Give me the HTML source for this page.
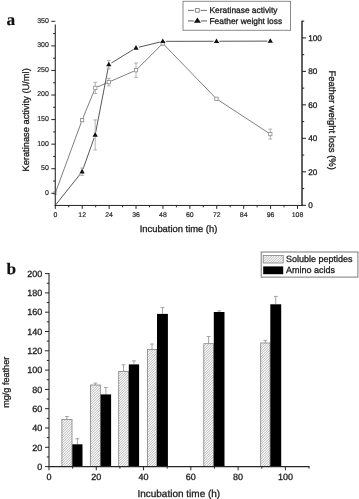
<!DOCTYPE html>
<html lang="en">
<head>
<meta charset="utf-8">
<title>Figure</title>
<style>
html,body{margin:0;padding:0;background:#fff;}
body{width:359px;height:499px;overflow:hidden;}
svg{display:block;}
text{text-rendering:geometricPrecision;}
</style>
</head>
<body>
<svg width="359" height="499" viewBox="0 0 359 499">
<rect width="359" height="499" fill="#fff"/>
<text x="0.00" y="0.00" font-size="16.3" text-anchor="start" fill="#111" stroke="#111" stroke-width="0.15" font-family='"Liberation Serif", "Times New Roman", serif' font-weight="bold" transform="translate(6.55,24.7) scale(1.07,1)">a</text>
<text x="0.00" y="0.00" font-size="16.0" text-anchor="start" fill="#111" stroke="#111" stroke-width="0.15" font-family='"Liberation Serif", "Times New Roman", serif' font-weight="bold" transform="translate(6.6,274.1) scale(1.08,1)">b</text>
<polyline points="55.30,193.00 82.10,120.10 95.30,87.90 108.80,82.10 136.00,70.20 162.80,43.40 216.40,98.80 270.30,134.10" fill="none" stroke="#707070" stroke-width="0.9"/>
<polyline points="55.30,205.30 82.10,171.70 95.20,134.90 108.80,64.60 136.00,47.90 162.80,41.35 216.50,41.25 270.30,41.10" fill="none" stroke="#444" stroke-width="0.9"/>
<rect x="53.80" y="191.50" width="3.0" height="3.0" fill="#fff" stroke="#b0b0b0" stroke-width="0.8"/>
<circle cx="82.10" cy="120.10" r="2.5" fill="#fff"/>
<circle cx="95.30" cy="87.90" r="2.5" fill="#fff"/>
<circle cx="108.80" cy="82.10" r="2.5" fill="#fff"/>
<circle cx="136.00" cy="70.20" r="2.5" fill="#fff"/>
<circle cx="162.80" cy="43.40" r="2.5" fill="#fff"/>
<circle cx="216.40" cy="98.80" r="2.5" fill="#fff"/>
<circle cx="270.30" cy="134.10" r="2.5" fill="#fff"/>
<circle cx="82.10" cy="171.70" r="3" fill="#fff"/>
<circle cx="95.20" cy="134.90" r="3" fill="#fff"/>
<circle cx="108.80" cy="64.60" r="3" fill="#fff"/>
<circle cx="136.00" cy="47.90" r="3" fill="#fff"/>
<circle cx="162.80" cy="41.35" r="3" fill="#fff"/>
<circle cx="216.50" cy="41.25" r="3" fill="#fff"/>
<circle cx="270.30" cy="41.10" r="3" fill="#fff"/>
<line x1="82.10" y1="118.60" x2="82.10" y2="121.60" stroke="#a0a0a0" stroke-width="0.8" />
<line x1="80.20" y1="118.60" x2="84.00" y2="118.60" stroke="#a0a0a0" stroke-width="0.8" />
<line x1="80.20" y1="121.60" x2="84.00" y2="121.60" stroke="#a0a0a0" stroke-width="0.8" />
<rect x="80.45" y="118.45" width="3.3" height="3.3" fill="#fff" stroke="#8a8a8a" stroke-width="0.8"/>
<line x1="95.30" y1="82.30" x2="95.30" y2="93.50" stroke="#a0a0a0" stroke-width="0.8" />
<line x1="93.40" y1="82.30" x2="97.20" y2="82.30" stroke="#a0a0a0" stroke-width="0.8" />
<line x1="93.40" y1="93.50" x2="97.20" y2="93.50" stroke="#a0a0a0" stroke-width="0.8" />
<rect x="93.65" y="86.25" width="3.3" height="3.3" fill="#fff" stroke="#8a8a8a" stroke-width="0.8"/>
<line x1="108.80" y1="78.30" x2="108.80" y2="85.90" stroke="#a0a0a0" stroke-width="0.8" />
<line x1="106.90" y1="78.30" x2="110.70" y2="78.30" stroke="#a0a0a0" stroke-width="0.8" />
<line x1="106.90" y1="85.90" x2="110.70" y2="85.90" stroke="#a0a0a0" stroke-width="0.8" />
<rect x="107.15" y="80.45" width="3.3" height="3.3" fill="#fff" stroke="#8a8a8a" stroke-width="0.8"/>
<line x1="136.00" y1="63.00" x2="136.00" y2="77.40" stroke="#a0a0a0" stroke-width="0.8" />
<line x1="134.10" y1="63.00" x2="137.90" y2="63.00" stroke="#a0a0a0" stroke-width="0.8" />
<line x1="134.10" y1="77.40" x2="137.90" y2="77.40" stroke="#a0a0a0" stroke-width="0.8" />
<rect x="134.35" y="68.55" width="3.3" height="3.3" fill="#fff" stroke="#8a8a8a" stroke-width="0.8"/>
<line x1="162.80" y1="41.60" x2="162.80" y2="45.20" stroke="#a0a0a0" stroke-width="0.8" />
<line x1="160.90" y1="41.60" x2="164.70" y2="41.60" stroke="#a0a0a0" stroke-width="0.8" />
<line x1="160.90" y1="45.20" x2="164.70" y2="45.20" stroke="#a0a0a0" stroke-width="0.8" />
<rect x="161.15" y="41.75" width="3.3" height="3.3" fill="#fff" stroke="#8a8a8a" stroke-width="0.8"/>
<line x1="216.40" y1="97.80" x2="216.40" y2="99.80" stroke="#a0a0a0" stroke-width="0.8" />
<line x1="214.50" y1="97.80" x2="218.30" y2="97.80" stroke="#a0a0a0" stroke-width="0.8" />
<line x1="214.50" y1="99.80" x2="218.30" y2="99.80" stroke="#a0a0a0" stroke-width="0.8" />
<rect x="214.75" y="97.15" width="3.3" height="3.3" fill="#fff" stroke="#8a8a8a" stroke-width="0.8"/>
<line x1="270.30" y1="129.10" x2="270.30" y2="139.10" stroke="#a0a0a0" stroke-width="0.8" />
<line x1="268.40" y1="129.10" x2="272.20" y2="129.10" stroke="#a0a0a0" stroke-width="0.8" />
<line x1="268.40" y1="139.10" x2="272.20" y2="139.10" stroke="#a0a0a0" stroke-width="0.8" />
<rect x="268.65" y="132.45" width="3.3" height="3.3" fill="#fff" stroke="#8a8a8a" stroke-width="0.8"/>
<line x1="82.10" y1="168.00" x2="82.10" y2="175.40" stroke="#a0a0a0" stroke-width="0.8" />
<line x1="80.20" y1="168.00" x2="84.00" y2="168.00" stroke="#a0a0a0" stroke-width="0.8" />
<line x1="80.20" y1="175.40" x2="84.00" y2="175.40" stroke="#a0a0a0" stroke-width="0.8" />
<polygon points="82.10,168.85 79.45,173.45 84.75,173.45" fill="#111"/>
<line x1="95.20" y1="119.90" x2="95.20" y2="149.90" stroke="#a0a0a0" stroke-width="0.8" />
<line x1="93.30" y1="119.90" x2="97.10" y2="119.90" stroke="#a0a0a0" stroke-width="0.8" />
<line x1="93.30" y1="149.90" x2="97.10" y2="149.90" stroke="#a0a0a0" stroke-width="0.8" />
<polygon points="95.20,132.05 92.55,136.65 97.85,136.65" fill="#111"/>
<line x1="108.80" y1="60.40" x2="108.80" y2="68.80" stroke="#a0a0a0" stroke-width="0.8" />
<line x1="106.90" y1="60.40" x2="110.70" y2="60.40" stroke="#a0a0a0" stroke-width="0.8" />
<line x1="106.90" y1="68.80" x2="110.70" y2="68.80" stroke="#a0a0a0" stroke-width="0.8" />
<polygon points="108.80,61.75 106.15,66.35 111.45,66.35" fill="#111"/>
<polygon points="136.00,45.05 133.35,49.65 138.65,49.65" fill="#111"/>
<polygon points="162.80,38.50 160.15,43.10 165.45,43.10" fill="#111"/>
<polygon points="216.50,38.40 213.85,43.00 219.15,43.00" fill="#111"/>
<polygon points="270.30,38.25 267.65,42.85 272.95,42.85" fill="#111"/>
<line x1="55.30" y1="24.60" x2="55.30" y2="205.80" stroke="#3a3a3a" stroke-width="1.2" />
<line x1="51.30" y1="193.30" x2="55.30" y2="193.30" stroke="#262626" stroke-width="1" />
<text x="48.90" y="194.65" font-size="7.0" text-anchor="end" fill="#2a2a2a" stroke="#2a2a2a" stroke-width="0.2" font-family='"Liberation Sans", Arial, sans-serif' font-weight="normal" >0</text>
<line x1="51.30" y1="168.73" x2="55.30" y2="168.73" stroke="#262626" stroke-width="1" />
<text x="48.90" y="170.08" font-size="7.0" text-anchor="end" fill="#2a2a2a" stroke="#2a2a2a" stroke-width="0.2" font-family='"Liberation Sans", Arial, sans-serif' font-weight="normal" >50</text>
<line x1="51.30" y1="144.16" x2="55.30" y2="144.16" stroke="#262626" stroke-width="1" />
<text x="48.90" y="145.51" font-size="7.0" text-anchor="end" fill="#2a2a2a" stroke="#2a2a2a" stroke-width="0.2" font-family='"Liberation Sans", Arial, sans-serif' font-weight="normal" >100</text>
<line x1="51.30" y1="119.59" x2="55.30" y2="119.59" stroke="#262626" stroke-width="1" />
<text x="48.90" y="120.94" font-size="7.0" text-anchor="end" fill="#2a2a2a" stroke="#2a2a2a" stroke-width="0.2" font-family='"Liberation Sans", Arial, sans-serif' font-weight="normal" >150</text>
<line x1="51.30" y1="95.02" x2="55.30" y2="95.02" stroke="#262626" stroke-width="1" />
<text x="48.90" y="96.37" font-size="7.0" text-anchor="end" fill="#2a2a2a" stroke="#2a2a2a" stroke-width="0.2" font-family='"Liberation Sans", Arial, sans-serif' font-weight="normal" >200</text>
<line x1="51.30" y1="70.45" x2="55.30" y2="70.45" stroke="#262626" stroke-width="1" />
<text x="48.90" y="71.80" font-size="7.0" text-anchor="end" fill="#2a2a2a" stroke="#2a2a2a" stroke-width="0.2" font-family='"Liberation Sans", Arial, sans-serif' font-weight="normal" >250</text>
<line x1="51.30" y1="45.88" x2="55.30" y2="45.88" stroke="#262626" stroke-width="1" />
<text x="48.90" y="47.23" font-size="7.0" text-anchor="end" fill="#2a2a2a" stroke="#2a2a2a" stroke-width="0.2" font-family='"Liberation Sans", Arial, sans-serif' font-weight="normal" >300</text>
<line x1="51.30" y1="21.31" x2="55.30" y2="21.31" stroke="#262626" stroke-width="1" />
<text x="48.90" y="22.66" font-size="7.0" text-anchor="end" fill="#2a2a2a" stroke="#2a2a2a" stroke-width="0.2" font-family='"Liberation Sans", Arial, sans-serif' font-weight="normal" >350</text>
<line x1="53.10" y1="181.02" x2="55.30" y2="181.02" stroke="#262626" stroke-width="1" />
<line x1="53.10" y1="156.45" x2="55.30" y2="156.45" stroke="#262626" stroke-width="1" />
<line x1="53.10" y1="131.88" x2="55.30" y2="131.88" stroke="#262626" stroke-width="1" />
<line x1="53.10" y1="107.31" x2="55.30" y2="107.31" stroke="#262626" stroke-width="1" />
<line x1="53.10" y1="82.74" x2="55.30" y2="82.74" stroke="#262626" stroke-width="1" />
<line x1="53.10" y1="58.17" x2="55.30" y2="58.17" stroke="#262626" stroke-width="1" />
<line x1="53.10" y1="33.59" x2="55.30" y2="33.59" stroke="#262626" stroke-width="1" />
<line x1="54.70" y1="205.45" x2="302.60" y2="205.45" stroke="#262626" stroke-width="1.0" />
<line x1="55.30" y1="205.30" x2="55.30" y2="208.90" stroke="#262626" stroke-width="1" />
<text x="55.30" y="216.60" font-size="6.9" text-anchor="middle" fill="#2a2a2a" stroke="#2a2a2a" stroke-width="0.2" font-family='"Liberation Sans", Arial, sans-serif' font-weight="normal" >0</text>
<line x1="82.21" y1="205.30" x2="82.21" y2="208.90" stroke="#262626" stroke-width="1" />
<text x="82.21" y="216.60" font-size="6.9" text-anchor="middle" fill="#2a2a2a" stroke="#2a2a2a" stroke-width="0.2" font-family='"Liberation Sans", Arial, sans-serif' font-weight="normal" >12</text>
<line x1="109.12" y1="205.30" x2="109.12" y2="208.90" stroke="#262626" stroke-width="1" />
<text x="109.12" y="216.60" font-size="6.9" text-anchor="middle" fill="#2a2a2a" stroke="#2a2a2a" stroke-width="0.2" font-family='"Liberation Sans", Arial, sans-serif' font-weight="normal" >24</text>
<line x1="136.03" y1="205.30" x2="136.03" y2="208.90" stroke="#262626" stroke-width="1" />
<text x="136.03" y="216.60" font-size="6.9" text-anchor="middle" fill="#2a2a2a" stroke="#2a2a2a" stroke-width="0.2" font-family='"Liberation Sans", Arial, sans-serif' font-weight="normal" >36</text>
<line x1="162.94" y1="205.30" x2="162.94" y2="208.90" stroke="#262626" stroke-width="1" />
<text x="162.94" y="216.60" font-size="6.9" text-anchor="middle" fill="#2a2a2a" stroke="#2a2a2a" stroke-width="0.2" font-family='"Liberation Sans", Arial, sans-serif' font-weight="normal" >48</text>
<line x1="189.86" y1="205.30" x2="189.86" y2="208.90" stroke="#262626" stroke-width="1" />
<text x="189.86" y="216.60" font-size="6.9" text-anchor="middle" fill="#2a2a2a" stroke="#2a2a2a" stroke-width="0.2" font-family='"Liberation Sans", Arial, sans-serif' font-weight="normal" >60</text>
<line x1="216.77" y1="205.30" x2="216.77" y2="208.90" stroke="#262626" stroke-width="1" />
<text x="216.77" y="216.60" font-size="6.9" text-anchor="middle" fill="#2a2a2a" stroke="#2a2a2a" stroke-width="0.2" font-family='"Liberation Sans", Arial, sans-serif' font-weight="normal" >72</text>
<line x1="243.68" y1="205.30" x2="243.68" y2="208.90" stroke="#262626" stroke-width="1" />
<text x="243.68" y="216.60" font-size="6.9" text-anchor="middle" fill="#2a2a2a" stroke="#2a2a2a" stroke-width="0.2" font-family='"Liberation Sans", Arial, sans-serif' font-weight="normal" >84</text>
<line x1="270.59" y1="205.30" x2="270.59" y2="208.90" stroke="#262626" stroke-width="1" />
<text x="270.59" y="216.60" font-size="6.9" text-anchor="middle" fill="#2a2a2a" stroke="#2a2a2a" stroke-width="0.2" font-family='"Liberation Sans", Arial, sans-serif' font-weight="normal" >96</text>
<line x1="297.50" y1="205.30" x2="297.50" y2="208.90" stroke="#262626" stroke-width="1" />
<text x="297.50" y="216.60" font-size="6.9" text-anchor="middle" fill="#2a2a2a" stroke="#2a2a2a" stroke-width="0.2" font-family='"Liberation Sans", Arial, sans-serif' font-weight="normal" >108</text>
<line x1="68.76" y1="205.30" x2="68.76" y2="207.30" stroke="#262626" stroke-width="1" />
<line x1="95.67" y1="205.30" x2="95.67" y2="207.30" stroke="#262626" stroke-width="1" />
<line x1="122.58" y1="205.30" x2="122.58" y2="207.30" stroke="#262626" stroke-width="1" />
<line x1="149.49" y1="205.30" x2="149.49" y2="207.30" stroke="#262626" stroke-width="1" />
<line x1="176.40" y1="205.30" x2="176.40" y2="207.30" stroke="#262626" stroke-width="1" />
<line x1="203.31" y1="205.30" x2="203.31" y2="207.30" stroke="#262626" stroke-width="1" />
<line x1="230.22" y1="205.30" x2="230.22" y2="207.30" stroke="#262626" stroke-width="1" />
<line x1="257.13" y1="205.30" x2="257.13" y2="207.30" stroke="#262626" stroke-width="1" />
<line x1="284.05" y1="205.30" x2="284.05" y2="207.30" stroke="#262626" stroke-width="1" />
<line x1="302.00" y1="20.80" x2="302.00" y2="205.80" stroke="#1e1e1e" stroke-width="1.4" />
<line x1="302.00" y1="205.30" x2="306.00" y2="205.30" stroke="#262626" stroke-width="1.05" />
<text x="308.20" y="208.10" font-size="8.2" text-anchor="start" fill="#1c1c1c" stroke="#1c1c1c" stroke-width="0.3" font-family='"Liberation Sans", Arial, sans-serif' font-weight="normal" >0</text>
<line x1="302.00" y1="171.82" x2="306.00" y2="171.82" stroke="#262626" stroke-width="1.05" />
<text x="308.20" y="174.62" font-size="8.2" text-anchor="start" fill="#1c1c1c" stroke="#1c1c1c" stroke-width="0.3" font-family='"Liberation Sans", Arial, sans-serif' font-weight="normal" >20</text>
<line x1="302.00" y1="138.34" x2="306.00" y2="138.34" stroke="#262626" stroke-width="1.05" />
<text x="308.20" y="141.14" font-size="8.2" text-anchor="start" fill="#1c1c1c" stroke="#1c1c1c" stroke-width="0.3" font-family='"Liberation Sans", Arial, sans-serif' font-weight="normal" >40</text>
<line x1="302.00" y1="104.86" x2="306.00" y2="104.86" stroke="#262626" stroke-width="1.05" />
<text x="308.20" y="107.66" font-size="8.2" text-anchor="start" fill="#1c1c1c" stroke="#1c1c1c" stroke-width="0.3" font-family='"Liberation Sans", Arial, sans-serif' font-weight="normal" >60</text>
<line x1="302.00" y1="71.38" x2="306.00" y2="71.38" stroke="#262626" stroke-width="1.05" />
<text x="308.20" y="74.18" font-size="8.2" text-anchor="start" fill="#1c1c1c" stroke="#1c1c1c" stroke-width="0.3" font-family='"Liberation Sans", Arial, sans-serif' font-weight="normal" >80</text>
<line x1="302.00" y1="37.90" x2="306.00" y2="37.90" stroke="#262626" stroke-width="1.05" />
<text x="308.20" y="40.70" font-size="8.2" text-anchor="start" fill="#1c1c1c" stroke="#1c1c1c" stroke-width="0.3" font-family='"Liberation Sans", Arial, sans-serif' font-weight="normal" >100</text>
<line x1="302.00" y1="188.56" x2="304.20" y2="188.56" stroke="#262626" stroke-width="1.05" />
<line x1="302.00" y1="155.08" x2="304.20" y2="155.08" stroke="#262626" stroke-width="1.05" />
<line x1="302.00" y1="121.60" x2="304.20" y2="121.60" stroke="#262626" stroke-width="1.05" />
<line x1="302.00" y1="88.12" x2="304.20" y2="88.12" stroke="#262626" stroke-width="1.05" />
<line x1="302.00" y1="54.64" x2="304.20" y2="54.64" stroke="#262626" stroke-width="1.05" />
<line x1="302.00" y1="21.16" x2="304.20" y2="21.16" stroke="#262626" stroke-width="1.05" />
<text x="0.00" y="0.00" font-size="9.3" text-anchor="middle" fill="#1c1c1c" stroke="#1c1c1c" stroke-width="0.3" font-family='"Liberation Sans", Arial, sans-serif' font-weight="normal" transform="translate(28.5,119.9) rotate(-90)">Keratinase activity (U/ml)</text>
<text x="0.00" y="0.00" font-size="9.47" text-anchor="middle" fill="#1c1c1c" stroke="#1c1c1c" stroke-width="0.3" font-family='"Liberation Sans", Arial, sans-serif' font-weight="normal" transform="translate(329.4,120.2) rotate(90)">Feather weight loss (%)</text>
<text x="178.50" y="231.60" font-size="9.4" text-anchor="middle" fill="#1c1c1c" stroke="#1c1c1c" stroke-width="0.3" font-family='"Liberation Sans", Arial, sans-serif' font-weight="normal" >Incubation time (h)</text>
<rect x="183" y="1.3" width="107.5" height="29" fill="#fff" stroke="#8a8a8a" stroke-width="1"/>
<line x1="188.00" y1="10.40" x2="207.00" y2="10.40" stroke="#808080" stroke-width="1.1" />
<circle cx="197.4" cy="10.4" r="3.2" fill="#fff"/>
<rect x="195.60" y="8.60" width="3.6" height="3.6" fill="#fff" stroke="#6e6e6e" stroke-width="0.8"/>
<line x1="188.00" y1="20.90" x2="207.00" y2="20.90" stroke="#6a6a6a" stroke-width="1.1" />
<circle cx="197.4" cy="20.6" r="3.7" fill="#fff"/>
<polygon points="197.40,17.40 193.90,22.80 200.90,22.80" fill="#111"/>
<text x="209.50" y="13.30" font-size="8.4" text-anchor="start" fill="#1c1c1c" stroke="#1c1c1c" stroke-width="0.3" font-family='"Liberation Sans", Arial, sans-serif' font-weight="normal" >Keratinase activity</text>
<text x="209.50" y="23.80" font-size="8.4" text-anchor="start" fill="#1c1c1c" stroke="#1c1c1c" stroke-width="0.3" font-family='"Liberation Sans", Arial, sans-serif' font-weight="normal" >Feather weight loss</text>
<line x1="66.90" y1="416.50" x2="66.90" y2="419.50" stroke="#9a9a9a" stroke-width="0.9" />
<line x1="65.00" y1="416.50" x2="68.80" y2="416.50" stroke="#9a9a9a" stroke-width="0.9" />
<line x1="77.40" y1="438.70" x2="77.40" y2="444.30" stroke="#9a9a9a" stroke-width="0.9" />
<line x1="75.50" y1="438.70" x2="79.30" y2="438.70" stroke="#9a9a9a" stroke-width="0.9" />
<rect x="61.90" y="419.50" width="10.10" height="47.10" fill="#fff"/>
<path d="M61.90,420.85L63.25,419.50M61.90,423.35L65.75,419.50M61.90,425.85L68.25,419.50M61.90,428.35L70.75,419.50M61.90,430.85L72.00,420.75M61.90,433.35L72.00,423.25M61.90,435.85L72.00,425.75M61.90,438.35L72.00,428.25M61.90,440.85L72.00,430.75M61.90,443.35L72.00,433.25M61.90,445.85L72.00,435.75M61.90,448.35L72.00,438.25M61.90,450.85L72.00,440.75M61.90,453.35L72.00,443.25M61.90,455.85L72.00,445.75M61.90,458.35L72.00,448.25M61.90,460.85L72.00,450.75M61.90,463.35L72.00,453.25M61.90,465.85L72.00,455.75M63.65,466.60L72.00,458.25M66.15,466.60L72.00,460.75M68.65,466.60L72.00,463.25M71.15,466.60L72.00,465.75" fill="none" stroke="#8a8a8a" stroke-width="0.64"/>
<rect x="61.90" y="419.50" width="10.10" height="47.10" fill="none" stroke="#7c7c7c" stroke-width="0.75"/>
<rect x="72.30" y="444.30" width="10.20" height="22.30" fill="#000"/>
<line x1="95.35" y1="383.10" x2="95.35" y2="385.00" stroke="#9a9a9a" stroke-width="0.9" />
<line x1="93.45" y1="383.10" x2="97.25" y2="383.10" stroke="#9a9a9a" stroke-width="0.9" />
<line x1="105.85" y1="387.50" x2="105.85" y2="394.40" stroke="#9a9a9a" stroke-width="0.9" />
<line x1="103.95" y1="387.50" x2="107.75" y2="387.50" stroke="#9a9a9a" stroke-width="0.9" />
<rect x="90.50" y="385.00" width="9.80" height="81.60" fill="#fff"/>
<path d="M90.50,387.25L92.75,385.00M90.50,389.75L95.25,385.00M90.50,392.25L97.75,385.00M90.50,394.75L100.25,385.00M90.50,397.25L100.30,387.45M90.50,399.75L100.30,389.95M90.50,402.25L100.30,392.45M90.50,404.75L100.30,394.95M90.50,407.25L100.30,397.45M90.50,409.75L100.30,399.95M90.50,412.25L100.30,402.45M90.50,414.75L100.30,404.95M90.50,417.25L100.30,407.45M90.50,419.75L100.30,409.95M90.50,422.25L100.30,412.45M90.50,424.75L100.30,414.95M90.50,427.25L100.30,417.45M90.50,429.75L100.30,419.95M90.50,432.25L100.30,422.45M90.50,434.75L100.30,424.95M90.50,437.25L100.30,427.45M90.50,439.75L100.30,429.95M90.50,442.25L100.30,432.45M90.50,444.75L100.30,434.95M90.50,447.25L100.30,437.45M90.50,449.75L100.30,439.95M90.50,452.25L100.30,442.45M90.50,454.75L100.30,444.95M90.50,457.25L100.30,447.45M90.50,459.75L100.30,449.95M90.50,462.25L100.30,452.45M90.50,464.75L100.30,454.95M91.15,466.60L100.30,457.45M93.65,466.60L100.30,459.95M96.15,466.60L100.30,462.45M98.65,466.60L100.30,464.95" fill="none" stroke="#8a8a8a" stroke-width="0.64"/>
<rect x="90.50" y="385.00" width="9.80" height="81.60" fill="none" stroke="#7c7c7c" stroke-width="0.75"/>
<rect x="100.60" y="394.40" width="10.50" height="72.20" fill="#000"/>
<line x1="123.55" y1="364.80" x2="123.55" y2="371.40" stroke="#9a9a9a" stroke-width="0.9" />
<line x1="121.65" y1="364.80" x2="125.45" y2="364.80" stroke="#9a9a9a" stroke-width="0.9" />
<line x1="133.95" y1="360.90" x2="133.95" y2="364.40" stroke="#9a9a9a" stroke-width="0.9" />
<line x1="132.05" y1="360.90" x2="135.85" y2="360.90" stroke="#9a9a9a" stroke-width="0.9" />
<rect x="118.70" y="371.40" width="9.80" height="95.20" fill="#fff"/>
<path d="M118.70,371.55L118.85,371.40M118.70,374.05L121.35,371.40M118.70,376.55L123.85,371.40M118.70,379.05L126.35,371.40M118.70,381.55L128.50,371.75M118.70,384.05L128.50,374.25M118.70,386.55L128.50,376.75M118.70,389.05L128.50,379.25M118.70,391.55L128.50,381.75M118.70,394.05L128.50,384.25M118.70,396.55L128.50,386.75M118.70,399.05L128.50,389.25M118.70,401.55L128.50,391.75M118.70,404.05L128.50,394.25M118.70,406.55L128.50,396.75M118.70,409.05L128.50,399.25M118.70,411.55L128.50,401.75M118.70,414.05L128.50,404.25M118.70,416.55L128.50,406.75M118.70,419.05L128.50,409.25M118.70,421.55L128.50,411.75M118.70,424.05L128.50,414.25M118.70,426.55L128.50,416.75M118.70,429.05L128.50,419.25M118.70,431.55L128.50,421.75M118.70,434.05L128.50,424.25M118.70,436.55L128.50,426.75M118.70,439.05L128.50,429.25M118.70,441.55L128.50,431.75M118.70,444.05L128.50,434.25M118.70,446.55L128.50,436.75M118.70,449.05L128.50,439.25M118.70,451.55L128.50,441.75M118.70,454.05L128.50,444.25M118.70,456.55L128.50,446.75M118.70,459.05L128.50,449.25M118.70,461.55L128.50,451.75M118.70,464.05L128.50,454.25M118.70,466.55L128.50,456.75M121.15,466.60L128.50,459.25M123.65,466.60L128.50,461.75M126.15,466.60L128.50,464.25" fill="none" stroke="#8a8a8a" stroke-width="0.64"/>
<rect x="118.70" y="371.40" width="9.80" height="95.20" fill="none" stroke="#7c7c7c" stroke-width="0.75"/>
<rect x="128.80" y="364.40" width="10.30" height="102.20" fill="#000"/>
<line x1="152.00" y1="344.00" x2="152.00" y2="349.60" stroke="#9a9a9a" stroke-width="0.9" />
<line x1="150.10" y1="344.00" x2="153.90" y2="344.00" stroke="#9a9a9a" stroke-width="0.9" />
<line x1="162.45" y1="307.50" x2="162.45" y2="313.90" stroke="#9a9a9a" stroke-width="0.9" />
<line x1="160.55" y1="307.50" x2="164.35" y2="307.50" stroke="#9a9a9a" stroke-width="0.9" />
<rect x="147.40" y="349.60" width="9.30" height="117.00" fill="#fff"/>
<path d="M147.40,350.35L148.15,349.60M147.40,352.85L150.65,349.60M147.40,355.35L153.15,349.60M147.40,357.85L155.65,349.60M147.40,360.35L156.70,351.05M147.40,362.85L156.70,353.55M147.40,365.35L156.70,356.05M147.40,367.85L156.70,358.55M147.40,370.35L156.70,361.05M147.40,372.85L156.70,363.55M147.40,375.35L156.70,366.05M147.40,377.85L156.70,368.55M147.40,380.35L156.70,371.05M147.40,382.85L156.70,373.55M147.40,385.35L156.70,376.05M147.40,387.85L156.70,378.55M147.40,390.35L156.70,381.05M147.40,392.85L156.70,383.55M147.40,395.35L156.70,386.05M147.40,397.85L156.70,388.55M147.40,400.35L156.70,391.05M147.40,402.85L156.70,393.55M147.40,405.35L156.70,396.05M147.40,407.85L156.70,398.55M147.40,410.35L156.70,401.05M147.40,412.85L156.70,403.55M147.40,415.35L156.70,406.05M147.40,417.85L156.70,408.55M147.40,420.35L156.70,411.05M147.40,422.85L156.70,413.55M147.40,425.35L156.70,416.05M147.40,427.85L156.70,418.55M147.40,430.35L156.70,421.05M147.40,432.85L156.70,423.55M147.40,435.35L156.70,426.05M147.40,437.85L156.70,428.55M147.40,440.35L156.70,431.05M147.40,442.85L156.70,433.55M147.40,445.35L156.70,436.05M147.40,447.85L156.70,438.55M147.40,450.35L156.70,441.05M147.40,452.85L156.70,443.55M147.40,455.35L156.70,446.05M147.40,457.85L156.70,448.55M147.40,460.35L156.70,451.05M147.40,462.85L156.70,453.55M147.40,465.35L156.70,456.05M148.65,466.60L156.70,458.55M151.15,466.60L156.70,461.05M153.65,466.60L156.70,463.55M156.15,466.60L156.70,466.05" fill="none" stroke="#8a8a8a" stroke-width="0.64"/>
<rect x="147.40" y="349.60" width="9.30" height="117.00" fill="none" stroke="#7c7c7c" stroke-width="0.75"/>
<rect x="157.00" y="313.90" width="10.90" height="152.70" fill="#000"/>
<line x1="208.60" y1="336.50" x2="208.60" y2="343.70" stroke="#9a9a9a" stroke-width="0.9" />
<line x1="206.70" y1="336.50" x2="210.50" y2="336.50" stroke="#9a9a9a" stroke-width="0.9" />
<line x1="219.15" y1="310.90" x2="219.15" y2="312.00" stroke="#9a9a9a" stroke-width="0.9" />
<line x1="217.25" y1="310.90" x2="221.05" y2="310.90" stroke="#9a9a9a" stroke-width="0.9" />
<rect x="203.80" y="343.70" width="9.70" height="122.90" fill="#fff"/>
<path d="M203.80,343.95L204.05,343.70M203.80,346.45L206.55,343.70M203.80,348.95L209.05,343.70M203.80,351.45L211.55,343.70M203.80,353.95L213.50,344.25M203.80,356.45L213.50,346.75M203.80,358.95L213.50,349.25M203.80,361.45L213.50,351.75M203.80,363.95L213.50,354.25M203.80,366.45L213.50,356.75M203.80,368.95L213.50,359.25M203.80,371.45L213.50,361.75M203.80,373.95L213.50,364.25M203.80,376.45L213.50,366.75M203.80,378.95L213.50,369.25M203.80,381.45L213.50,371.75M203.80,383.95L213.50,374.25M203.80,386.45L213.50,376.75M203.80,388.95L213.50,379.25M203.80,391.45L213.50,381.75M203.80,393.95L213.50,384.25M203.80,396.45L213.50,386.75M203.80,398.95L213.50,389.25M203.80,401.45L213.50,391.75M203.80,403.95L213.50,394.25M203.80,406.45L213.50,396.75M203.80,408.95L213.50,399.25M203.80,411.45L213.50,401.75M203.80,413.95L213.50,404.25M203.80,416.45L213.50,406.75M203.80,418.95L213.50,409.25M203.80,421.45L213.50,411.75M203.80,423.95L213.50,414.25M203.80,426.45L213.50,416.75M203.80,428.95L213.50,419.25M203.80,431.45L213.50,421.75M203.80,433.95L213.50,424.25M203.80,436.45L213.50,426.75M203.80,438.95L213.50,429.25M203.80,441.45L213.50,431.75M203.80,443.95L213.50,434.25M203.80,446.45L213.50,436.75M203.80,448.95L213.50,439.25M203.80,451.45L213.50,441.75M203.80,453.95L213.50,444.25M203.80,456.45L213.50,446.75M203.80,458.95L213.50,449.25M203.80,461.45L213.50,451.75M203.80,463.95L213.50,454.25M203.80,466.45L213.50,456.75M206.15,466.60L213.50,459.25M208.65,466.60L213.50,461.75M211.15,466.60L213.50,464.25" fill="none" stroke="#8a8a8a" stroke-width="0.64"/>
<rect x="203.80" y="343.70" width="9.70" height="122.90" fill="none" stroke="#7c7c7c" stroke-width="0.75"/>
<rect x="213.80" y="312.00" width="10.70" height="154.60" fill="#000"/>
<line x1="265.30" y1="340.40" x2="265.30" y2="343.00" stroke="#9a9a9a" stroke-width="0.9" />
<line x1="263.40" y1="340.40" x2="267.20" y2="340.40" stroke="#9a9a9a" stroke-width="0.9" />
<line x1="275.75" y1="296.40" x2="275.75" y2="304.30" stroke="#9a9a9a" stroke-width="0.9" />
<line x1="273.85" y1="296.40" x2="277.65" y2="296.40" stroke="#9a9a9a" stroke-width="0.9" />
<rect x="260.70" y="343.00" width="9.30" height="123.60" fill="#fff"/>
<path d="M260.70,344.55L262.25,343.00M260.70,347.05L264.75,343.00M260.70,349.55L267.25,343.00M260.70,352.05L269.75,343.00M260.70,354.55L270.00,345.25M260.70,357.05L270.00,347.75M260.70,359.55L270.00,350.25M260.70,362.05L270.00,352.75M260.70,364.55L270.00,355.25M260.70,367.05L270.00,357.75M260.70,369.55L270.00,360.25M260.70,372.05L270.00,362.75M260.70,374.55L270.00,365.25M260.70,377.05L270.00,367.75M260.70,379.55L270.00,370.25M260.70,382.05L270.00,372.75M260.70,384.55L270.00,375.25M260.70,387.05L270.00,377.75M260.70,389.55L270.00,380.25M260.70,392.05L270.00,382.75M260.70,394.55L270.00,385.25M260.70,397.05L270.00,387.75M260.70,399.55L270.00,390.25M260.70,402.05L270.00,392.75M260.70,404.55L270.00,395.25M260.70,407.05L270.00,397.75M260.70,409.55L270.00,400.25M260.70,412.05L270.00,402.75M260.70,414.55L270.00,405.25M260.70,417.05L270.00,407.75M260.70,419.55L270.00,410.25M260.70,422.05L270.00,412.75M260.70,424.55L270.00,415.25M260.70,427.05L270.00,417.75M260.70,429.55L270.00,420.25M260.70,432.05L270.00,422.75M260.70,434.55L270.00,425.25M260.70,437.05L270.00,427.75M260.70,439.55L270.00,430.25M260.70,442.05L270.00,432.75M260.70,444.55L270.00,435.25M260.70,447.05L270.00,437.75M260.70,449.55L270.00,440.25M260.70,452.05L270.00,442.75M260.70,454.55L270.00,445.25M260.70,457.05L270.00,447.75M260.70,459.55L270.00,450.25M260.70,462.05L270.00,452.75M260.70,464.55L270.00,455.25M261.15,466.60L270.00,457.75M263.65,466.60L270.00,460.25M266.15,466.60L270.00,462.75M268.65,466.60L270.00,465.25" fill="none" stroke="#8a8a8a" stroke-width="0.64"/>
<rect x="260.70" y="343.00" width="9.30" height="123.60" fill="none" stroke="#7c7c7c" stroke-width="0.75"/>
<rect x="270.30" y="304.30" width="10.90" height="162.30" fill="#000"/>
<line x1="49.00" y1="273.10" x2="49.00" y2="467.10" stroke="#3a3a3a" stroke-width="1.2" />
<line x1="45.00" y1="466.60" x2="49.00" y2="466.60" stroke="#262626" stroke-width="1" />
<text x="42.30" y="469.80" font-size="9" text-anchor="end" fill="#1c1c1c" stroke="#1c1c1c" stroke-width="0.3" font-family='"Liberation Sans", Arial, sans-serif' font-weight="normal" >0</text>
<line x1="45.00" y1="447.30" x2="49.00" y2="447.30" stroke="#262626" stroke-width="1" />
<text x="42.30" y="450.50" font-size="9" text-anchor="end" fill="#1c1c1c" stroke="#1c1c1c" stroke-width="0.3" font-family='"Liberation Sans", Arial, sans-serif' font-weight="normal" >20</text>
<line x1="45.00" y1="428.00" x2="49.00" y2="428.00" stroke="#262626" stroke-width="1" />
<text x="42.30" y="431.20" font-size="9" text-anchor="end" fill="#1c1c1c" stroke="#1c1c1c" stroke-width="0.3" font-family='"Liberation Sans", Arial, sans-serif' font-weight="normal" >40</text>
<line x1="45.00" y1="408.70" x2="49.00" y2="408.70" stroke="#262626" stroke-width="1" />
<text x="42.30" y="411.90" font-size="9" text-anchor="end" fill="#1c1c1c" stroke="#1c1c1c" stroke-width="0.3" font-family='"Liberation Sans", Arial, sans-serif' font-weight="normal" >60</text>
<line x1="45.00" y1="389.40" x2="49.00" y2="389.40" stroke="#262626" stroke-width="1" />
<text x="42.30" y="392.60" font-size="9" text-anchor="end" fill="#1c1c1c" stroke="#1c1c1c" stroke-width="0.3" font-family='"Liberation Sans", Arial, sans-serif' font-weight="normal" >80</text>
<line x1="45.00" y1="370.10" x2="49.00" y2="370.10" stroke="#262626" stroke-width="1" />
<text x="42.30" y="373.30" font-size="9" text-anchor="end" fill="#1c1c1c" stroke="#1c1c1c" stroke-width="0.3" font-family='"Liberation Sans", Arial, sans-serif' font-weight="normal" >100</text>
<line x1="45.00" y1="350.80" x2="49.00" y2="350.80" stroke="#262626" stroke-width="1" />
<text x="42.30" y="354.00" font-size="9" text-anchor="end" fill="#1c1c1c" stroke="#1c1c1c" stroke-width="0.3" font-family='"Liberation Sans", Arial, sans-serif' font-weight="normal" >120</text>
<line x1="45.00" y1="331.50" x2="49.00" y2="331.50" stroke="#262626" stroke-width="1" />
<text x="42.30" y="334.70" font-size="9" text-anchor="end" fill="#1c1c1c" stroke="#1c1c1c" stroke-width="0.3" font-family='"Liberation Sans", Arial, sans-serif' font-weight="normal" >140</text>
<line x1="45.00" y1="312.20" x2="49.00" y2="312.20" stroke="#262626" stroke-width="1" />
<text x="42.30" y="315.40" font-size="9" text-anchor="end" fill="#1c1c1c" stroke="#1c1c1c" stroke-width="0.3" font-family='"Liberation Sans", Arial, sans-serif' font-weight="normal" >160</text>
<line x1="45.00" y1="292.90" x2="49.00" y2="292.90" stroke="#262626" stroke-width="1" />
<text x="42.30" y="296.10" font-size="9" text-anchor="end" fill="#1c1c1c" stroke="#1c1c1c" stroke-width="0.3" font-family='"Liberation Sans", Arial, sans-serif' font-weight="normal" >180</text>
<line x1="45.00" y1="273.60" x2="49.00" y2="273.60" stroke="#262626" stroke-width="1" />
<text x="42.30" y="276.80" font-size="9" text-anchor="end" fill="#1c1c1c" stroke="#1c1c1c" stroke-width="0.3" font-family='"Liberation Sans", Arial, sans-serif' font-weight="normal" >200</text>
<line x1="46.80" y1="456.95" x2="49.00" y2="456.95" stroke="#262626" stroke-width="1" />
<line x1="46.80" y1="437.65" x2="49.00" y2="437.65" stroke="#262626" stroke-width="1" />
<line x1="46.80" y1="418.35" x2="49.00" y2="418.35" stroke="#262626" stroke-width="1" />
<line x1="46.80" y1="399.05" x2="49.00" y2="399.05" stroke="#262626" stroke-width="1" />
<line x1="46.80" y1="379.75" x2="49.00" y2="379.75" stroke="#262626" stroke-width="1" />
<line x1="46.80" y1="360.45" x2="49.00" y2="360.45" stroke="#262626" stroke-width="1" />
<line x1="46.80" y1="341.15" x2="49.00" y2="341.15" stroke="#262626" stroke-width="1" />
<line x1="46.80" y1="321.85" x2="49.00" y2="321.85" stroke="#262626" stroke-width="1" />
<line x1="46.80" y1="302.55" x2="49.00" y2="302.55" stroke="#262626" stroke-width="1" />
<line x1="46.80" y1="283.25" x2="49.00" y2="283.25" stroke="#262626" stroke-width="1" />
<line x1="48.50" y1="466.60" x2="309.54" y2="466.60" stroke="#262626" stroke-width="1.1" />
<line x1="49.00" y1="466.60" x2="49.00" y2="470.30" stroke="#262626" stroke-width="1" />
<text x="49.00" y="480.00" font-size="9" text-anchor="middle" fill="#1c1c1c" stroke="#1c1c1c" stroke-width="0.3" font-family='"Liberation Sans", Arial, sans-serif' font-weight="normal" >0</text>
<line x1="96.28" y1="466.60" x2="96.28" y2="470.30" stroke="#262626" stroke-width="1" />
<text x="96.28" y="480.00" font-size="9" text-anchor="middle" fill="#1c1c1c" stroke="#1c1c1c" stroke-width="0.3" font-family='"Liberation Sans", Arial, sans-serif' font-weight="normal" >20</text>
<line x1="143.56" y1="466.60" x2="143.56" y2="470.30" stroke="#262626" stroke-width="1" />
<text x="143.56" y="480.00" font-size="9" text-anchor="middle" fill="#1c1c1c" stroke="#1c1c1c" stroke-width="0.3" font-family='"Liberation Sans", Arial, sans-serif' font-weight="normal" >40</text>
<line x1="190.84" y1="466.60" x2="190.84" y2="470.30" stroke="#262626" stroke-width="1" />
<text x="190.84" y="480.00" font-size="9" text-anchor="middle" fill="#1c1c1c" stroke="#1c1c1c" stroke-width="0.3" font-family='"Liberation Sans", Arial, sans-serif' font-weight="normal" >60</text>
<line x1="238.12" y1="466.60" x2="238.12" y2="470.30" stroke="#262626" stroke-width="1" />
<text x="238.12" y="480.00" font-size="9" text-anchor="middle" fill="#1c1c1c" stroke="#1c1c1c" stroke-width="0.3" font-family='"Liberation Sans", Arial, sans-serif' font-weight="normal" >80</text>
<line x1="285.40" y1="466.60" x2="285.40" y2="470.30" stroke="#262626" stroke-width="1" />
<text x="285.40" y="480.00" font-size="9" text-anchor="middle" fill="#1c1c1c" stroke="#1c1c1c" stroke-width="0.3" font-family='"Liberation Sans", Arial, sans-serif' font-weight="normal" >100</text>
<line x1="72.64" y1="466.60" x2="72.64" y2="468.60" stroke="#262626" stroke-width="1" />
<line x1="119.92" y1="466.60" x2="119.92" y2="468.60" stroke="#262626" stroke-width="1" />
<line x1="167.20" y1="466.60" x2="167.20" y2="468.60" stroke="#262626" stroke-width="1" />
<line x1="214.48" y1="466.60" x2="214.48" y2="468.60" stroke="#262626" stroke-width="1" />
<line x1="261.76" y1="466.60" x2="261.76" y2="468.60" stroke="#262626" stroke-width="1" />
<line x1="309.04" y1="466.60" x2="309.04" y2="468.60" stroke="#262626" stroke-width="1" />
<text x="0.00" y="0.00" font-size="9.1" text-anchor="middle" fill="#1c1c1c" stroke="#1c1c1c" stroke-width="0.3" font-family='"Liberation Sans", Arial, sans-serif' font-weight="normal" transform="translate(9.0,382.3) rotate(-90)">mg/g feather</text>
<text x="178.80" y="496.50" font-size="10" text-anchor="middle" fill="#1c1c1c" stroke="#1c1c1c" stroke-width="0.3" font-family='"Liberation Sans", Arial, sans-serif' font-weight="normal" >Incubation time (h)</text>
<rect x="261.2" y="252" width="96.7" height="25.1" fill="#fff" stroke="#7a7a7a" stroke-width="1"/>
<rect x="263.20" y="255.40" width="20.00" height="7.60" fill="#fff"/>
<path d="M263.20,257.05L264.85,255.40M263.20,259.55L267.35,255.40M263.20,262.05L269.85,255.40M264.75,263.00L272.35,255.40M267.25,263.00L274.85,255.40M269.75,263.00L277.35,255.40M272.25,263.00L279.85,255.40M274.75,263.00L282.35,255.40M277.25,263.00L283.20,257.05M279.75,263.00L283.20,259.55M282.25,263.00L283.20,262.05" fill="none" stroke="#8a8a8a" stroke-width="0.64"/>
<rect x="263.20" y="255.40" width="20.00" height="7.60" fill="none" stroke="#7c7c7c" stroke-width="0.75"/>
<rect x="263.2" y="266.4" width="20" height="7.8" fill="#000"/>
<text x="286.00" y="262.30" font-size="9" text-anchor="start" fill="#1c1c1c" stroke="#1c1c1c" stroke-width="0.3" font-family='"Liberation Sans", Arial, sans-serif' font-weight="normal" >Soluble peptides</text>
<text x="286.00" y="273.40" font-size="9" text-anchor="start" fill="#1c1c1c" stroke="#1c1c1c" stroke-width="0.3" font-family='"Liberation Sans", Arial, sans-serif' font-weight="normal" >Amino acids</text>
</svg>
</body>
</html>
